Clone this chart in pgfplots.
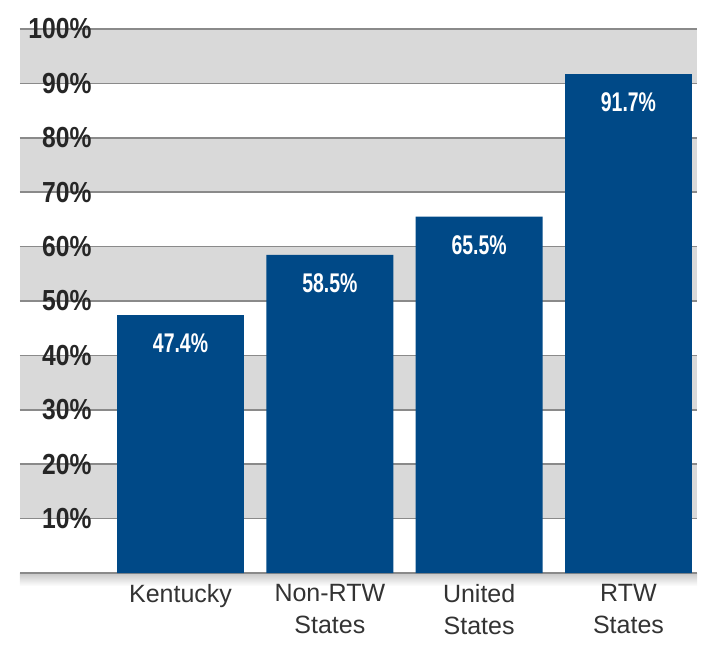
\documentclass[border=0pt]{standalone}
\usepackage{pgfplots}
\pgfplotsset{compat=1.18}
\usepackage{fontspec}
\setmainfont{Liberation Sans}
\newfontfamily\tickfont{Liberation Sans}[FakeStretch=0.85]
\newfontfamily\valfont{Liberation Sans}[FakeStretch=0.72]
\definecolor{barblue}{RGB}{0,73,135}
\definecolor{band}{RGB}{217,217,217}
\definecolor{gridc}{RGB}{138,138,138}

\begin{document}
\begin{tikzpicture}
\begin{axis}[
  set layers,
  scale only axis,
  width=677pt, height=544pt,
  xmin=-1.075, xmax=3.459,
  ymin=0, ymax=100,
  clip=false,
  ybar, bar width=0.85,
  axis line style={draw=none},
  major tick length=0pt,
  ytick={0,10,20,30,40,50,60,70,80,90,100},
  yticklabels={,10\%,20\%,30\%,40\%,50\%,60\%,70\%,80\%,90\%,100\%},
  ymajorgrids,
  grid style={gridc, line width=1.6pt},
  yticklabel style={font=\tickfont\bfseries\fontsize{29}{29}\selectfont,
    text=black!85, anchor=east, xshift=75pt},
  xtick={0,1,2,3},
  xticklabels={Kentucky,{Non-RTW\\States},{United\\States},{RTW\\States}},
  xticklabel style={align=center, font=\fontsize{25}{32}\selectfont,
    text=black!80, yshift=-8pt},
  /pgf/number format/assume math mode=true,
  nodes near coords={\pgfmathprintnumber[fixed,precision=1,fixed zerofill]{\pgfplotspointmeta}\%},
  nodes near coords style={font=\valfont\bfseries\fontsize{27}{27}\selectfont,
    text=white, anchor=north, yshift=-15pt},
]
\begin{pgfonlayer}{axis background}
  \fill[band] (axis cs:-1.075,90) rectangle (axis cs:3.459,100);
  \fill[band] (axis cs:-1.075,70) rectangle (axis cs:3.459,80);
  \fill[band] (axis cs:-1.075,50) rectangle (axis cs:3.459,60);
  \fill[band] (axis cs:-1.075,30) rectangle (axis cs:3.459,40);
  \fill[band] (axis cs:-1.075,10) rectangle (axis cs:3.459,20);
  \shade[top color=black!22, bottom color=white] (axis cs:-1.075,-2.4) rectangle (axis cs:3.459,0);
\end{pgfonlayer}
\addplot[fill=barblue, draw=none] coordinates {(0,47.4) (1,58.5) (2,65.5) (3,91.7)};
\end{axis}
\pgfresetboundingbox
\path (current axis.south west) ++(-20pt,-73pt) (current axis.north east) ++(20pt,29pt);
\end{tikzpicture}
\end{document}
